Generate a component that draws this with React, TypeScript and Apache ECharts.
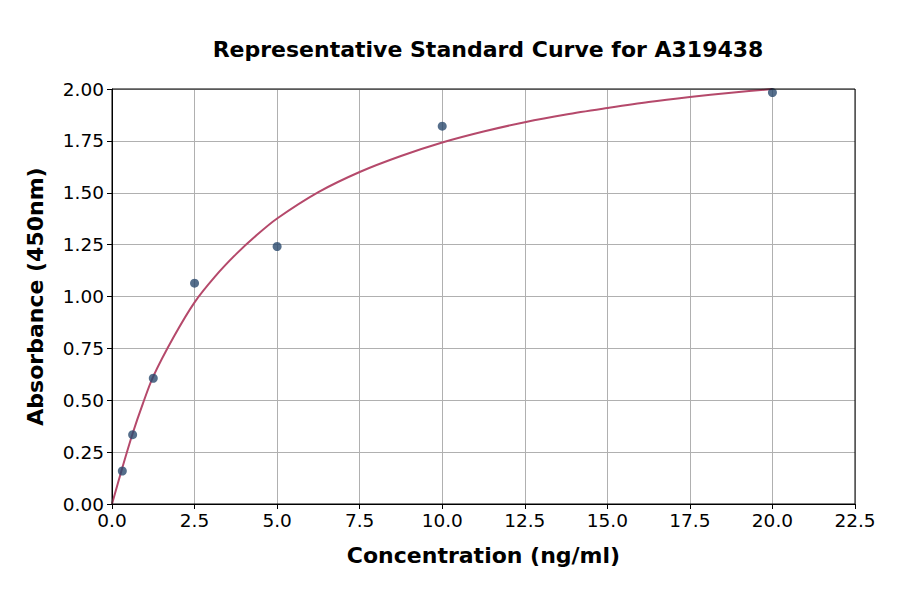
import { useEffect, useRef } from "react";
import * as echarts from "echarts";

// measured standard points
const concentrations = [0.3125, 0.625, 1.25, 2.5, 5, 10, 20];
const absorbances = [0.159, 0.334, 0.606, 1.064, 1.241, 1.821, 1.983];

// fitted curve
const curveX = [
  0, 0.3125, 0.625, 0.9375, 1.25, 1.875, 2.5, 3.125, 3.75, 4.375, 5,
  6.25, 7.5, 8.75, 10, 11.25, 12.5, 13.75, 15, 16.25, 17.5, 18.75, 20,
];
const curveY = [
  0, 0.175, 0.34, 0.485, 0.615, 0.807, 0.972, 1.097, 1.203, 1.295, 1.376,
  1.503, 1.6, 1.677, 1.742, 1.795, 1.84, 1.877, 1.908, 1.937, 1.961, 1.982, 2.0,
];

const FONT = "DejaVu Sans";

export default function App() {
  const chartRef = useRef<HTMLDivElement>(null);

  useEffect(() => {
    if (!chartRef.current) return;
    const chart = echarts.init(chartRef.current, undefined, { renderer: "svg" });

    chart.setOption({
      animation: false,
      backgroundColor: "#ffffff",
      textStyle: { fontFamily: FONT },
      title: {
        text: "Representative Standard Curve for A319438",
        left: 483,
        textAlign: "center",
        top: 33,
        textStyle: { fontFamily: FONT, fontSize: 22, fontWeight: "bold", color: "#000" },
      },
      grid: { left: 112, right: 45, top: 89, bottom: 90 },
      xAxis: {
        type: "value",
        min: 0,
        max: 22.5,
        interval: 2.5,
        name: "Concentration (ng/ml)",
        nameLocation: "middle",
        nameGap: 40,
        nameTextStyle: { fontFamily: FONT, fontSize: 22, fontWeight: "bold", color: "#000" },
        axisLine: { onZero: false, lineStyle: { color: "#000", width: 1 } },
        axisTick: { show: true, length: 5, lineStyle: { color: "#000" } },
        axisLabel: {
          fontFamily: FONT,
          fontSize: 18.5,
          color: "#000",
          margin: 7,
          formatter: (v: number) => v.toFixed(1),
        },
        splitLine: { show: true, lineStyle: { color: "#b0b0b0", width: 1 } },
      },
      yAxis: {
        type: "value",
        min: 0,
        max: 2,
        interval: 0.25,
        name: "Absorbance (450nm)",
        nameLocation: "middle",
        nameGap: 66,
        nameTextStyle: { fontFamily: FONT, fontSize: 22, fontWeight: "bold", color: "#000" },
        axisLine: { show: true, onZero: false, lineStyle: { color: "#000", width: 1 } },
        axisTick: { show: true, length: 5, lineStyle: { color: "#000" } },
        axisLabel: {
          fontFamily: FONT,
          fontSize: 18.5,
          color: "#000",
          margin: 8,
          formatter: (v: number) => v.toFixed(2),
        },
        splitLine: { show: true, lineStyle: { color: "#b0b0b0", width: 1 } },
      },
      // top and right frame lines
      graphic: [
        {
          type: "rect",
          shape: { x: 112, y: 89, width: 743, height: 415 },
          style: { fill: "none", stroke: "#000", lineWidth: 1 },
          silent: true,
          z: 10,
        },
      ],
      series: [
        {
          type: "line",
          data: curveX.map((x, i) => [x, curveY[i]]),
          smooth: 0.3,
          showSymbol: false,
          lineStyle: { color: "#b5496b", width: 2 },
          z: 2,
        },
        {
          type: "scatter",
          data: concentrations.map((x, i) => [x, absorbances[i]]),
          symbolSize: 9,
          itemStyle: { color: "#2a4a6e" },
          z: 3,
        },
      ],
    });

    return () => chart.dispose();
  }, []);

  return <div ref={chartRef} style={{ width: 900, height: 594, margin: -8 }} />;
}
